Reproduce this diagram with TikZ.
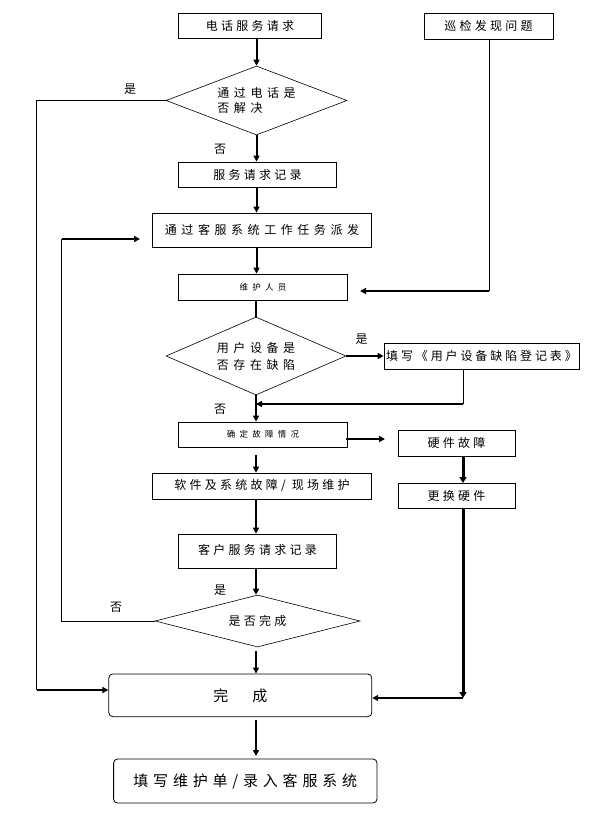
\documentclass[tikz,border=0pt]{standalone}
\usepackage{fontspec}
\usetikzlibrary{arrows.meta,shapes.geometric,calc}
\newfontfamily\cjkl{Noto Sans CJK SC}
\newfontfamily\cjkA[LetterSpace=27]{Noto Sans CJK SC}
\newfontfamily\cjkB[LetterSpace=38]{Noto Sans CJK SC}
\newfontfamily\cjkS[LetterSpace=50]{Noto Sans CJK SC}
\newfontfamily\cjkC[LetterSpace=24]{Noto Sans CJK SC}
\newfontfamily\cjkF[LetterSpace=32]{Noto Sans CJK SC}
\newcommand\fntA{\cjkA\fontsize{12}{15}\selectfont}
\newcommand\fntB{\cjkB\fontsize{12}{15}\selectfont}
\newcommand\fntS{\cjkS\fontsize{8.5}{10}\selectfont}
\newcommand\fntC{\cjkC\fontsize{12}{15}\selectfont}
\newcommand\fntD{\cjkB\fontsize{12}{15}\selectfont}
\newcommand\fntE{\cjkB\fontsize{12}{17}\selectfont}
\newcommand\fntF{\cjkF\fontsize{15}{18}\selectfont}
\newcommand\fntG{\cjkl\fontsize{15}{18}\selectfont}
\begin{document}
\begin{tikzpicture}[x=1pt,y=-1pt,
  box/.style={draw, line width=0.8pt, rectangle, inner sep=0pt},
  rbox/.style={box, rounded corners=4pt},
  dia/.style={draw, line width=0.6pt, diamond, inner sep=0pt, align=left},
  arr/.style={line width=2pt, -{Triangle[length=6pt,width=6pt]}},
  thk/.style={line width=2pt},
  thn/.style={line width=0.8pt},
  lbl/.style={inner sep=0pt, font=\cjkl\fontsize{12}{14}\selectfont},
]
\useasboundingbox (0,0) rectangle (591,826);
\fill[white] (0,0) rectangle (591,826);

% nodes
\node[box, minimum width=142.5pt, minimum height=25pt, font=\fntA] (tel) at (250,25.5) {电话服务请求};
\node[box, minimum width=129pt, minimum height=26pt, font=\fntA] (xj) at (488.5,26) {巡检发现问题};
\node[dia, aspect=2.6, minimum width=181pt, minimum height=69pt, font=\fntD] (d1) at (256.5,100.5) {通过电话是\\否解决};
\node[box, minimum width=158pt, minimum height=25pt, font=\fntA] (rec) at (257.5,174.5) {服务请求记录};
\node[box, minimum width=219.5pt, minimum height=34pt, font=\fntB] (disp) at (262,230) {通过客服系统工作任务派发};
\node[box, minimum width=168.5pt, minimum height=26pt, font=\fntS] (staff) at (263,287) {维护人员};
\node[dia, aspect=2.3, minimum width=180pt, minimum height=78pt, font=\fntE] (d2) at (256,356) {用户设备是\\否存在缺陷};
\node[box, minimum width=195pt, minimum height=26pt, inner xsep=2pt, font=\fntC] (fill) at (481.5,356) {填写《用户设备缺陷登记表》};
\node[box, minimum width=168.5pt, minimum height=25pt, font=\fntS] (fault) at (263,434.5) {确定故障情况};
\node[box, minimum width=117pt, minimum height=26pt, font=\fntA] (hw) at (456.5,443) {硬件故障};
\node[box, minimum width=117pt, minimum height=25pt, font=\fntA] (rep) at (456.5,495.5) {更换硬件};
\node[box, minimum width=219.5pt, minimum height=26pt, font=\fntA] (sw) at (262,486) {软件及系统故障/ 现场维护};
\node[box, minimum width=158pt, minimum height=34pt, font=\fntA] (crec) at (257.5,551) {\raisebox{3pt}{客户服务请求记录}};
\node[dia, aspect=3.9, minimum width=205pt, minimum height=52pt, font=\fntA] (d3) at (257.5,621) {是否完成};
\node[rbox, minimum width=263pt, minimum height=42.7pt, font=\fntG] (done) at (240.3,695.3) {完\hspace{24pt}成};
\node[rbox, minimum width=263.4pt, minimum height=44pt, font=\fntF] (final) at (245.3,781) {填写维护单/录入客服系统};

% labels
\node[lbl] (l1) at (130,89) {是};
\node[lbl] (l2) at (220,149) {否};
\node[lbl] (l3) at (361.5,339) {是};
\node[lbl] (l4) at (220,409) {否};
\node[lbl] (l5) at (220,590) {是};
\node[lbl] (l6) at (116,607) {否};

% coordinates
\coordinate (xjturn) at (489,291);
\coordinate (xjend) at (360,291);
\coordinate (fillturn) at (463,404);
\coordinate (fillend) at (256,404);
\coordinate (fo1) at (346,439);
\coordinate (fo2) at (385,439);
\coordinate (hwout) at (463,456);
\coordinate (repin) at (463,483);
\coordinate (repout) at (463,508);
\coordinate (rcorner) at (463,698);
\coordinate (fs1) at (256,455);
\coordinate (d3s) at (256,651);
\coordinate (dones) at (256,720);
\coordinate (finaln) at (256,756);
\coordinate (lt1) at (36.6,100.5);
\coordinate (lb1) at (36.6,690);
\coordinate (lp1) at (61.5,621);
\coordinate (lp2) at (61.5,239);
\coordinate (lp3) at (140,239);

% main axis
\draw[arr] (tel.south -| d1.north) -- (d1.north);
\draw[arr] (d1.south) -- (d1.south |- rec.north);
\draw[arr] (d1.south |- rec.south) -- (d1.south |- disp.north);
\draw[arr] (d1.south |- disp.south) -- (d1.south |- staff.north);
\draw[thk] (d2.north |- staff.south) -- (d2.north);
\draw[arr] (d2.south) -- (d2.south |- fault.north);
\draw[arr] (fs1) -- (fs1 |- sw.north);
\draw[arr] (fs1 |- sw.south) -- (fs1 |- crec.north);
\draw[arr] (fs1 |- crec.south) -- (fs1 |- d3.north);
\draw[arr] (d3s) -- (d3s |- done.north);
\draw[arr] (dones) -- (finaln);

% right branches
\draw[thn] (xj.south -| xjturn) -- (xjturn);
\draw[arr] (xjturn) -- (xjend);
\draw[arr] (d2.east) -- (d2.east -| fill.west);
\draw[thn] (fill.south -| fillturn) -- (fillturn);
\draw[arr] (fillturn) -- (fillend);
\draw[arr] (fo1) -- (fo2);
\draw[line width=3pt, -{Triangle[length=6pt,width=7pt]}] (hwout) -- (repin);
\draw[line width=3pt, -{Triangle[length=6pt,width=7pt]}] (repout) -- (rcorner);
\draw[arr] (rcorner) -- (rcorner -| done.east);

% left branches
\draw[thn] (d1.west) -- (lt1) -- (lb1);
\draw[arr] (lb1) -- (lb1 -| done.west);
\draw[thn] (d3.west) -- (lp1) -- (lp2);
\draw[arr] (lp2) -- (lp3);
\end{tikzpicture}
\end{document}
